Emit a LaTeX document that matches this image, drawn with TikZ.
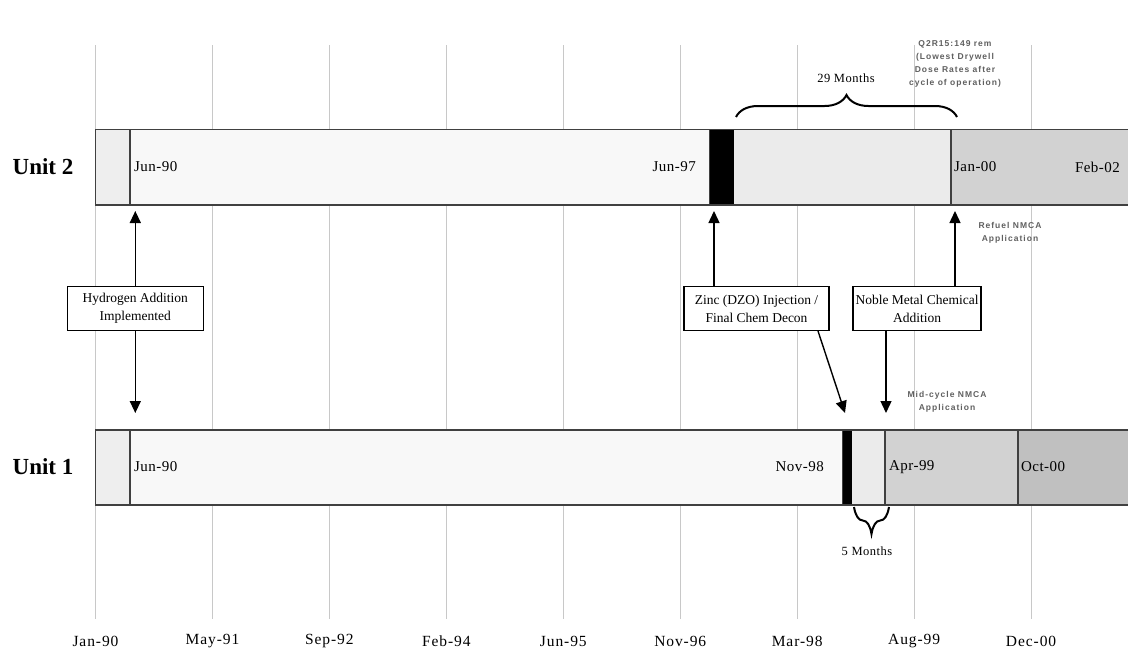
\documentclass[tikz,border=0pt]{standalone}
\usepackage{fontspec}
\setmainfont{Liberation Serif}
\setsansfont{Liberation Sans}
\usetikzlibrary{arrows.meta,decorations.pathreplacing}
\definecolor{gridc}{HTML}{C8C8C8}
\definecolor{barA}{HTML}{EEEEEE}
\definecolor{barB}{HTML}{F8F8F8}
\definecolor{barC}{HTML}{EBEBEB}
\definecolor{barD}{HTML}{D2D2D2}
\definecolor{barE}{HTML}{C0C0C0}
\definecolor{edgec}{HTML}{404040}
\definecolor{notec}{HTML}{606060}
\tikzset{
  gridline/.style={draw=gridc, line width=0.9pt},
  seg/.style={draw=edgec, line width=1.1pt},
  datelbl/.style={font=\fontsize{15}{16}\selectfont\addfontfeatures{LetterSpace=3}, inner sep=0pt},
  unitlbl/.style={font=\bfseries\fontsize{23}{24}\selectfont, inner sep=0pt},
  axislbl/.style={font=\fontsize{15.5}{16}\selectfont\addfontfeatures{LetterSpace=6}, inner sep=0pt},
  evbox/.style={draw=black, line width=1.1pt, fill=white, align=center,
    font=\fontsize{13.5}{18}\selectfont, inner sep=0pt, minimum height=44.5pt},
  note/.style={font=\sffamily\bfseries\fontsize{8.5}{13}\selectfont\addfontfeatures{LetterSpace=12}, text=notec, align=center, inner sep=0pt},
  evarrow/.style={draw=black, line width=1.4pt, -{Triangle[width=11pt,length=12pt]}},
  bracec/.style={draw=black, line width=2pt, decorate},
  bracelbl/.style={font=\fontsize{12.5}{14}\selectfont\addfontfeatures{LetterSpace=4}, inner sep=0pt}
}
\begin{document}
\begin{tikzpicture}[x=1pt,y=-1pt]
\useasboundingbox (0,0) rectangle (1128,648);
\clip (0,0) rectangle (1128,648);
\fill[white] (0,0) rectangle (1128,648);
% grid lines and axis labels
\foreach \lbl [count=\i from 0] in {Jan-90,May-91,Sep-92,Feb-94,Jun-95,Nov-96,Mar-98,Aug-99,Dec-00}{
  \draw[gridline] ({95.5+116.95*\i},45) -- ({95.5+116.95*\i},619);
  \node[axislbl] (ax\i) at ({95.5+116.95*\i},641) {\lbl};
}
% Unit 2 bar
\path[seg, fill=barB] (95.5,129.5) rectangle (1140,205);
\path[seg, fill=barA] (95.5,129.5) rectangle (130,205);
\path[draw=edgec, line width=1pt, fill=black] (709.5,129.5) rectangle (734,205);
\path[fill=barC] (734,130.1) rectangle (951,204.4);
\path[seg, fill=barD] (951,129.5) rectangle (1140,205);
\draw[edgec, line width=1.1pt] (95.5,129.5) -- (1140,129.5) (95.5,205) -- (1140,205);
\node[unitlbl] (u2) at (43,167) {Unit 2};
\node[datelbl, anchor=west] (d1) at (134,167) {Jun-90};
\node[datelbl, anchor=east] (d2) at (696,167) {Jun-97};
\node[datelbl, anchor=west] (d3) at (954,167) {Jan-00};
\node[datelbl, anchor=east] (d4) at (1120,167) {Feb-02};
% Unit 1 bar
\path[seg, fill=barB] (95.5,430) rectangle (1140,505);
\path[seg, fill=barA] (95.5,430) rectangle (130,505);
\path[draw=edgec, line width=1pt, fill=black] (842.5,430) rectangle (852,505);
\path[fill=barC] (852,430.6) rectangle (885,504.4);
\path[seg, fill=barD] (885,430) rectangle (1018,505);
\path[seg, fill=barE] (1018,430) rectangle (1140,505);
\draw[edgec, line width=1.1pt] (95.5,430) -- (1140,430) (95.5,505) -- (1140,505);
\node[unitlbl] (u1) at (43,467) {Unit 1};
\node[datelbl, anchor=west] (e1) at (134,467) {Jun-90};
\node[datelbl, anchor=east] (e2) at (824,467) {Nov-98};
\node[datelbl, anchor=west] (e3) at (889,467) {Apr-99};
\node[datelbl, anchor=west] (e4) at (1021,467) {Oct-00};
% event boxes
\node[evbox, minimum width=136pt] (hyd) at (135.3,308.5) {Hydrogen Addition\\Implemented};
\node[evbox, minimum width=145pt] (zinc) at (756.5,308.5) {Zinc (DZO) Injection /\\Final Chem Decon};
\node[evbox, minimum width=128pt] (noble) at (917,308.5) {Noble Metal Chemical\\Addition};
% arrow end points
\coordinate (hydU) at (135.3,211);
\coordinate (hydD) at (135.3,413);
\coordinate (zincU) at (714,211);
\coordinate (zincD) at (845,413);
\coordinate (nobU) at (955,211);
\coordinate (nobD) at (886,413);
\draw[evarrow] (hyd.north) -- (hydU);
\draw[evarrow] (hyd.south) -- (hydD);
\draw[evarrow] (zinc.north -| zincU) -- (zincU);
\draw[evarrow] (818,331) -- (zincD);
\draw[evarrow] (noble.north -| nobU) -- (nobU);
\draw[evarrow] (noble.south -| nobD) -- (nobD);
% notes
\node[note] (n1) at (955,64) {Q2R15:149 rem\\(Lowest Drywell\\Dose Rates after\\cycle of operation)};
\node[note] (n2) at (1010,233) {Refuel NMCA\\Application};
\node[note] (n3) at (947,402) {Mid-cycle NMCA\\Application};
% braces
\coordinate (b29a) at (736,117);
\coordinate (b29b) at (957,117);
\draw[bracec, decoration={brace, amplitude=22pt}] (b29a) -- (b29b);
\node[bracelbl] (m29) at (846,78) {29 Months};
\coordinate (b5a) at (889,507);
\coordinate (b5b) at (854,507);
\draw[bracec, decoration={brace, amplitude=27pt}] (b5a) -- (b5b);
\node[bracelbl] (m5) at (867,551) {5 Months};
\end{tikzpicture}
\end{document}
